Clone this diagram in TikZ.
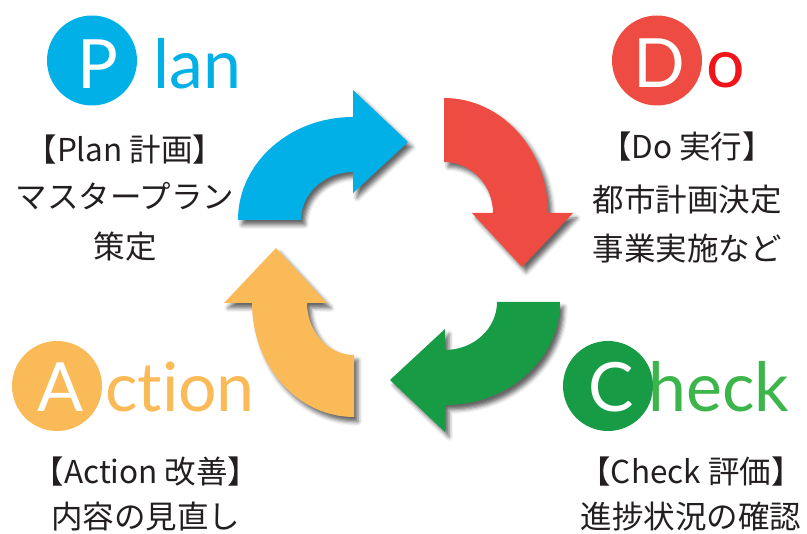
\documentclass[tikz,border=0pt]{standalone}
\usepackage{fontspec}
\setmainfont{Noto Sans CJK JP}
\newfontfamily\latofont[Ligatures=NoCommon]{Lato}
\usetikzlibrary{shadows.blur}
\definecolor{planblue}{HTML}{00B0E6}
\definecolor{doredarrow}{HTML}{EE4B42}
\definecolor{dotext}{HTML}{F2141B}
\definecolor{checkgreen}{HTML}{179C45}
\definecolor{checktext}{HTML}{3CB54A}
\definecolor{actorange}{HTML}{FBBA58}
\definecolor{textgray}{HTML}{231F20}
\begin{document}
\begin{tikzpicture}[x=1pt,y=1pt,
  arrowshape/.style={blur shadow={shadow xshift=4pt,shadow yshift=-5pt,shadow blur radius=4pt,shadow opacity=60}},
  circ/.style={circle,minimum size=90pt,inner sep=0pt},
  bigletter/.style={font=\latofont\fontsize{68}{68}\selectfont,text=white,inner sep=0pt,anchor=base},
  bigrest/.style={font=\latofont\fontsize{68}{68}\selectfont,inner sep=0pt,anchor=base west},
  jtext/.style={font=\fontsize{31.5}{31.5}\selectfont,text=textgray,inner sep=0pt}]
\useasboundingbox (0,0) rectangle (807,534);
\clip (0,0) rectangle (807,534);
% arrows
\fill[planblue,arrowshape] (238,314) arc[start angle=180,end angle=90,x radius=115,y radius=103]
  -- (353,444) -- (408,392) -- (353,341) -- (353,362)
  arc[start angle=90,end angle=180,x radius=52,y radius=48] -- cycle;
\fill[doredarrow,arrowshape] (444,436) arc[start angle=90,end angle=0,x radius=104,y radius=115]
  -- (573,321) -- (522,267) -- (472,321) -- (493,321)
  arc[start angle=0,end angle=90,x radius=49,y radius=51] -- cycle;
\fill[checkgreen,arrowshape] (560,232) arc[start angle=0,end angle=-90,x radius=115,y radius=103]
  -- (445,102) -- (390,154) -- (445,205) -- (445,184)
  arc[start angle=-90,end angle=0,x radius=52,y radius=48] -- cycle;
\fill[actorange,arrowshape] (354,117) arc[start angle=-90,end angle=-180,x radius=102,y radius=114]
  -- (224,231) -- (276,286) -- (327,231) -- (307,231)
  arc[start angle=180,end angle=270,x radius=47,y radius=52] -- cycle;
% circles
\node[circ,fill=planblue] (pc) at (92,473.5) {};
\node[circ,fill=doredarrow] (dc) at (657,473.5) {};
\node[circ,fill=actorange] (ac) at (57,148) {};
\node[circ,fill=checkgreen] (cc) at (608,148) {};
% big letters
\node[bigletter] (pl) at (98,445) {P};
\node[bigrest,text=planblue] (plr) at (153,445) {lan};
\node[bigletter] (dl) at (659,446) {D};
\node[bigrest,text=dotext] (dlr) at (706,446) {o};
\node[bigletter] (al) at (61,122) {A};
\node[bigrest,text=actorange] (alr) at (105,122) {ction};
\node[bigletter] (cl) at (611,122) {C};
\node[bigrest,text=checktext] (clr) at (648,122) {heck};
% texts
\node[jtext] (p1) at (125,384.5) {【Plan 計画】};
\node[jtext] (p2) at (125,338) {マスタープラン};
\node[jtext] (p3) at (125,287.5) {策定};
\node[jtext] (d1) at (687,387) {【Do 実行】};
\node[jtext] (d2) at (687,334) {都市計画決定};
\node[jtext] (d3) at (687,285) {事業実施など};
\node[jtext] (a1) at (146,62) {【Action 改善】};
\node[jtext] (a2) at (146,17.5) {内容の見直し};
\node[jtext] (c1) at (691,62) {【Check 評価】};
\node[jtext] (c2) at (691,17.5) {進捗状況の確認};
\end{tikzpicture}
\end{document}
